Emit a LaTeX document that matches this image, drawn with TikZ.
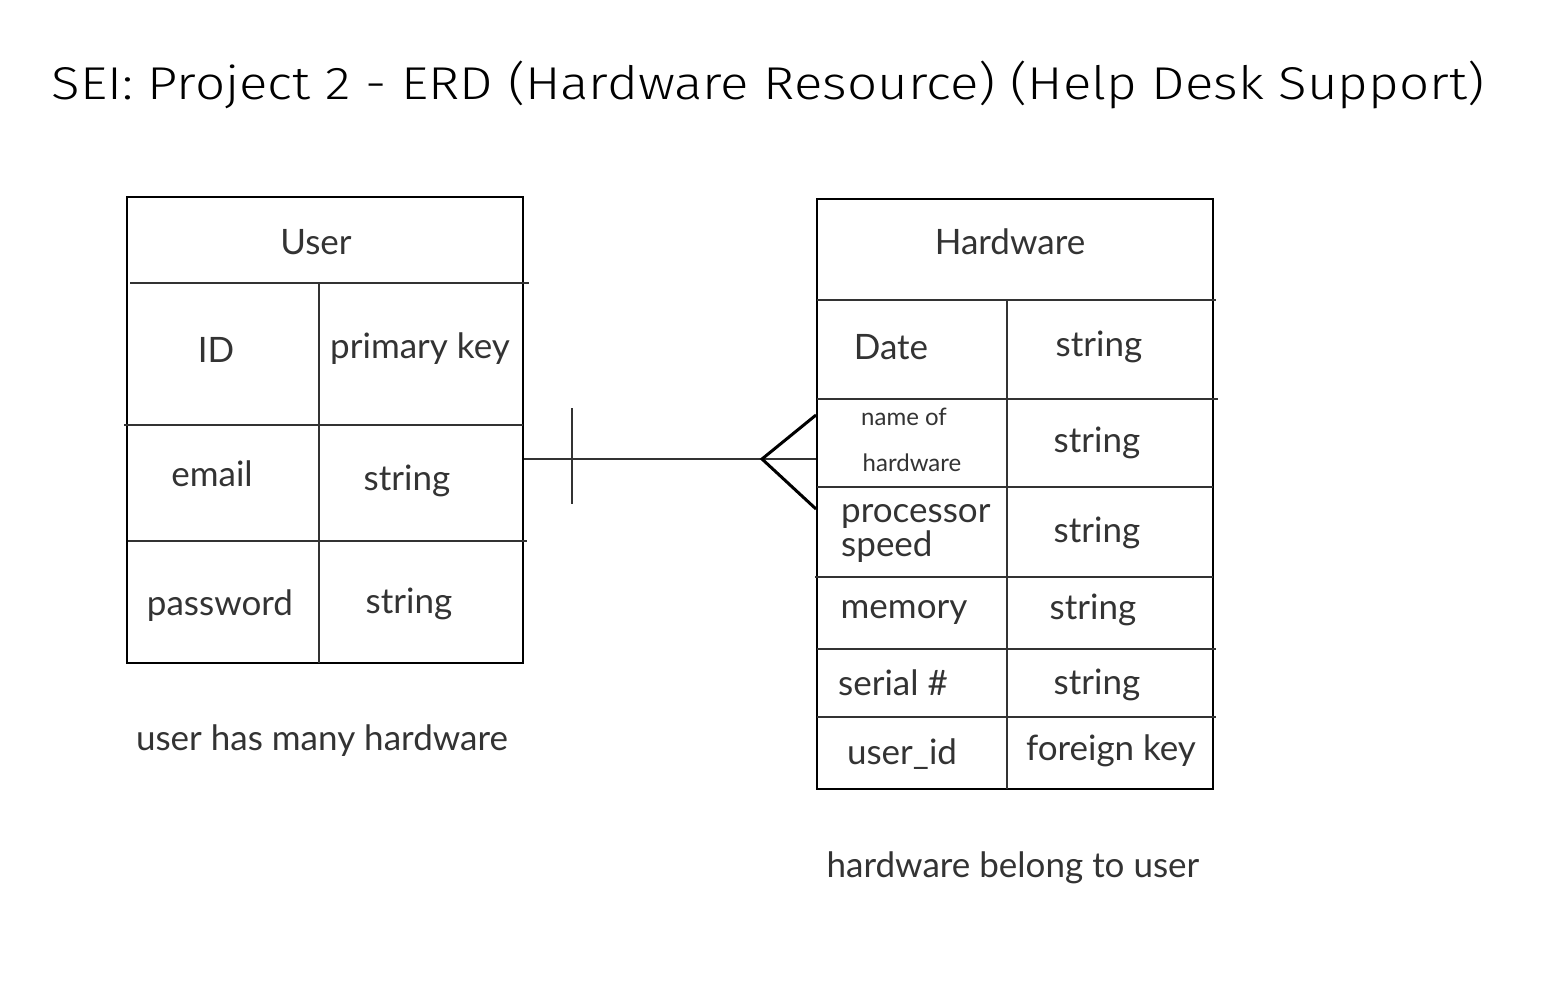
\documentclass[tikz,border=0pt]{standalone}
\usepackage{fontspec}
\setmainfont{Lato}
\newfontfamily\titlefont[FakeStretch=1.15]{Fira Sans Light}
\usepackage{tikz}
\definecolor{LineGray}{HTML}{333333}

\tikzset{
  box/.style={draw=black, line width=2pt, minimum width=396pt, inner sep=0pt},
  cell/.style={font=\fontsize{35}{40}\selectfont, text=LineGray, inner sep=0pt},
  smallcell/.style={font=\fontsize{24}{28}\selectfont, text=LineGray, inner sep=0pt},
  rule/.style={draw=LineGray, line width=2pt}
}

\begin{document}
\begin{tikzpicture}[x=1pt,y=-1pt]
            \useasboundingbox (0,0) rectangle (1562,994);

            \node[font=\titlefont\fontsize{46}{50}\selectfont, anchor=west] (title) at (48,85)
                {SEI: Project 2 - ERD (Hardware Resource) (Help Desk Support)};

            % User table
            \node[box, minimum height=466pt] (user) at (325,430) {};
            \draw[rule] (130,283) -- (529,283);
            \draw[rule] (124,425) -- (523,425);
            \draw[rule] (128,541) -- (527,541);
            \draw[rule] (319,283) -- (319,663);
            \node[cell] (usertitle) at (316,242) {User};
            \node[cell] (userid) at (216,350) {ID};
            \node[cell] (useridtype) at (420,349) {primary key};
            \node[cell] (useremail) at (212,474) {email};
            \node[cell] (useremailtype) at (407,481) {string};
            \node[cell] (userpass) at (220,606) {password};
            \node[cell] (userpasstype) at (409,604) {string};
            \node[cell] (usernote) at (322,741) {user has many hardware};

            % Hardware table
            \node[box, minimum height=590pt] (hw) at (1015,494) {};
            \draw[rule] (817,300) -- (1216,300);
            \draw[rule] (817,399) -- (1218,399);
            \draw[rule] (817,487) -- (1213,487);
            \draw[rule] (815,577) -- (1213,577);
            \draw[rule] (817,649) -- (1216,649);
            \draw[rule] (817,717) -- (1216,717);
            \draw[rule] (1007,300) -- (1007,789);
            \node[cell] (hwtitle) at (1010,242) {Hardware};
            \node[cell] (hwdate) at (891,347) {Date};
            \node[cell] (hwdatetype) at (1099,347) {string};
            \node[smallcell] (hwname) at (904,417) {name of};
            \node[smallcell] (hwname2) at (912,463) {hardware};
            \node[cell] (hwnametype) at (1097,443) {string};
            \node[cell, anchor=west, align=left] (hwspeed) at (841,533) {processor\\[-6pt]speed};
            \node[cell] (hwspeedtype) at (1097,533) {string};
            \node[cell] (hwmem) at (904,612) {memory};
            \node[cell] (hwmemtype) at (1093,610) {string};
            \node[cell] (hwserial) at (893,683) {serial \#};
            \node[cell] (hwserialtype) at (1097,685) {string};
            \node[cell] (hwuser) at (902,754) {user\_id};
            \node[cell] (hwusertype) at (1111,751) {foreign key};
            \node[cell] (hwnote) at (1013,868) {hardware belong to user};

            % one user to many hardware
            \coordinate (rel) at (0,459);
            \draw[rule] (user.east |- rel) -- (hw.west |- rel);
            \draw[rule] ([xshift=48pt]user.east |- rel) ++(0,-51) -- ++(0,96);
            \coordinate (crow) at ([xshift=-54pt]hw.west |- rel);
            \draw[black, line width=3pt] (hw.west |- 0,415) -- (crow) -- (hw.west |- 0,509);
\end{tikzpicture}
\end{document}
